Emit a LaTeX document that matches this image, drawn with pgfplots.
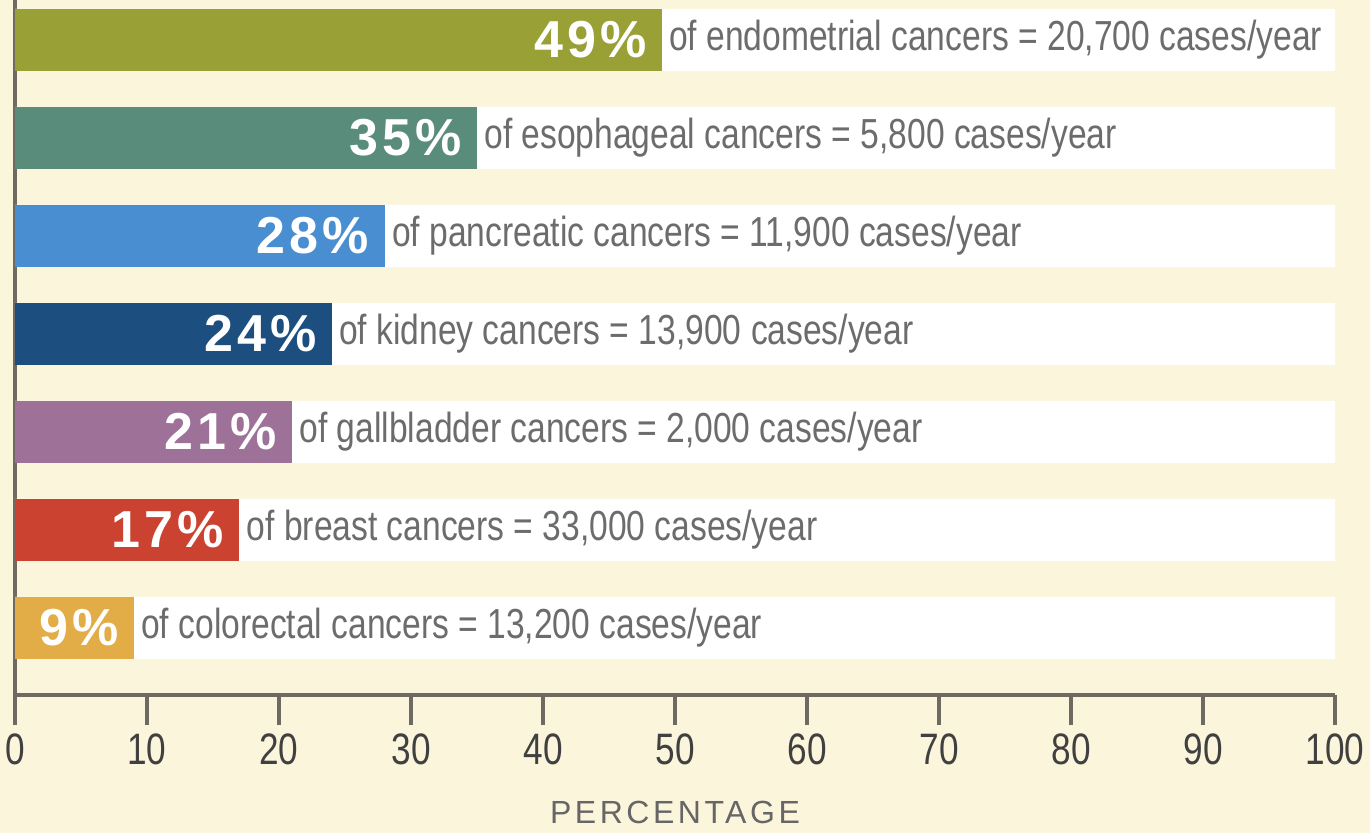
\documentclass[border=0pt]{standalone}
\usepackage{pgfplots}
\pgfplotsset{compat=1.18}
\usepackage{fontspec}
\setmainfont{Liberation Sans}
\newfontfamily\narrow[FakeStretch=0.8]{Liberation Sans}
\newfontfamily\pctfont[LetterSpace=8]{Liberation Sans}
\newfontfamily\spaced[LetterSpace=11]{Liberation Sans}
\definecolor{bgc}{HTML}{FBF5DC}
\definecolor{axc}{HTML}{6E6A62}
\definecolor{txt}{HTML}{6C6C6C}
\definecolor{c1}{HTML}{99A036}
\definecolor{c2}{HTML}{5A8C7C}
\definecolor{c3}{HTML}{4A8ED2}
\definecolor{c4}{HTML}{1C4E80}
\definecolor{c5}{HTML}{9E7298}
\definecolor{c6}{HTML}{CC4230}
\definecolor{c7}{HTML}{E2AC46}
\begin{document}
\begin{tikzpicture}
\fill[bgc] (-7.5pt,-69pt) rectangle (677.5pt,347.5pt);
\begin{axis}[
  scale only axis,
  width=660pt, height=347.5pt,
  xmin=0, xmax=100,
  ymin=-0.408, ymax=6.684,
  y dir=reverse,
  axis x line*=bottom, axis y line*=left,
  x axis line style={-, line width=1.6pt, color=axc},
  y axis line style={-, line width=1.6pt, color=axc},
  xtick={0,10,...,100},
  ytick=\empty,
  xtick align=outside,
  major tick length=15pt,
  x tick style={line width=1.6pt, color=axc},
  /pgf/number format/assume math mode=true,
  x tick label style={font=\narrow\fontsize{22}{25}\selectfont, text=black!75, inner sep=4pt},
  xlabel={\spaced PERCENTAGE},
  xlabel style={font=\fontsize{16}{19}\selectfont, text=black!60, yshift=-11pt},
  xbar, bar width=31pt, bar shift=0pt,
  clip=false,
  every node near coord/.append style={anchor=east, xshift=-7.5pt, text=white, font=\pctfont\bfseries\fontsize{26}{29}\selectfont, inner sep=0pt},
  point meta=x,
]
\addplot[fill=white, draw=none] coordinates {(100,0) (100,1) (100,2) (100,3) (100,4) (100,5) (100,6)};
\addplot[fill=c1, draw=none, nodes near coords={\pgfmathprintnumber{\pgfplotspointmeta}\%}] coordinates {(49,0)};
\addplot[fill=c2, draw=none, nodes near coords={\pgfmathprintnumber{\pgfplotspointmeta}\%}] coordinates {(35,1)};
\addplot[fill=c3, draw=none, nodes near coords={\pgfmathprintnumber{\pgfplotspointmeta}\%}] coordinates {(28,2)};
\addplot[fill=c4, draw=none, nodes near coords={\pgfmathprintnumber{\pgfplotspointmeta}\%}] coordinates {(24,3)};
\addplot[fill=c5, draw=none, nodes near coords={\pgfmathprintnumber{\pgfplotspointmeta}\%}] coordinates {(21,4)};
\addplot[fill=c6, draw=none, nodes near coords={\pgfmathprintnumber{\pgfplotspointmeta}\%}] coordinates {(17,5)};
\addplot[fill=c7, draw=none, nodes near coords={\pgfmathprintnumber{\pgfplotspointmeta}\%}] coordinates {(9,6)};
\begin{scope}[every node/.style={anchor=west, xshift=2.5pt, text=txt, font=\narrow\fontsize{21}{24}\selectfont, inner sep=1pt}]
\node at (axis cs:49,0) {of endometrial cancers = 20,700 cases/year};
\node at (axis cs:35,1) {of esophageal cancers = 5,800 cases/year};
\node at (axis cs:28,2) {of pancreatic cancers = 11,900 cases/year};
\node at (axis cs:24,3) {of kidney cancers = 13,900 cases/year};
\node at (axis cs:21,4) {of gallbladder cancers = 2,000 cases/year};
\node at (axis cs:17,5) {of breast cancers = 33,000 cases/year};
\node at (axis cs:9,6) {of colorectal cancers = 13,200 cases/year};
\end{scope}
\end{axis}
\pgfresetboundingbox
\path (-7.5pt,-69pt) rectangle (677.5pt,347.5pt);
\end{tikzpicture}
\end{document}
